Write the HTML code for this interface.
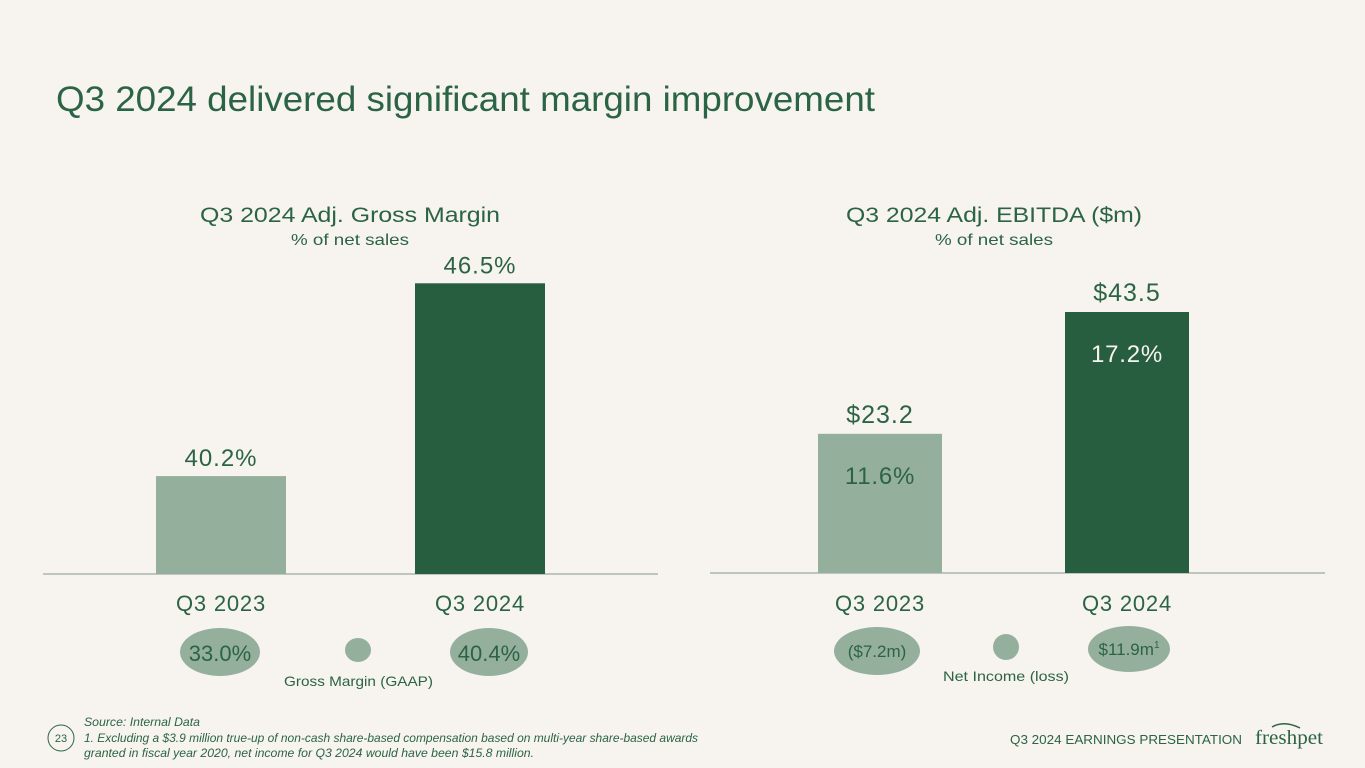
<!DOCTYPE html>
<html><head><meta charset="utf-8"><style>
html,body{margin:0;padding:0;background:#f7f3ef;}
svg{display:block;font-family:"Liberation Sans","DejaVu Sans",sans-serif;}
</style></head><body>
<svg id="s" width="1365" height="768" viewBox="0 0 1365 768">
<rect width="1365" height="768" fill="#f7f3ef"/>
<text x="56" y="111" font-size="35" fill="#2b6444" textLength="819" lengthAdjust="spacingAndGlyphs">Q3 2024 delivered significant margin improvement</text>
<g id="left">
<text x="200" y="222" font-size="21" fill="#2b6444" textLength="300" lengthAdjust="spacingAndGlyphs">Q3 2024 Adj. Gross Margin</text>
<text x="291" y="245" font-size="16" fill="#2b6444" textLength="118" lengthAdjust="spacingAndGlyphs">% of net sales</text>
<line x1="43" y1="574" x2="658" y2="574" stroke="#a9b8ae" stroke-width="1.5"/>
</g>
<g id="right">
<text x="846" y="222" font-size="21" fill="#2b6444" textLength="296" lengthAdjust="spacingAndGlyphs">Q3 2024 Adj. EBITDA ($m)</text>
<text x="935" y="245" font-size="16" fill="#2b6444" textLength="118" lengthAdjust="spacingAndGlyphs">% of net sales</text>
<line x1="710" y1="573" x2="1325" y2="573" stroke="#a9b8ae" stroke-width="1.5"/>
</g>
<g>
<ellipse cx="220" cy="652" rx="40" ry="24" fill="#95af9d"/>
<text x="220" y="661" font-size="22" fill="#2b6444" text-anchor="middle">33.0%</text>
<ellipse cx="358" cy="650" rx="13" ry="12" fill="#95af9d"/>
<text x="284" y="686" font-size="14" fill="#2b6444" textLength="149" lengthAdjust="spacingAndGlyphs">Gross Margin (GAAP)</text>
<ellipse cx="489" cy="652" rx="39" ry="24" fill="#95af9d"/>
<text x="489" y="661" font-size="22" fill="#2b6444" text-anchor="middle">40.4%</text>
</g>
<g>
<ellipse cx="877" cy="651" rx="43" ry="24" fill="#95af9d"/>
<text x="877" y="657" font-size="17" fill="#2b6444" text-anchor="middle">($7.2m)</text>
<ellipse cx="1006" cy="647" rx="13" ry="13" fill="#95af9d"/>
<text x="943" y="681" font-size="14" fill="#2b6444" textLength="126" lengthAdjust="spacingAndGlyphs">Net Income (loss)</text>
<ellipse cx="1129" cy="649" rx="41" ry="23" fill="#95af9d"/>
<text x="1129" y="655" font-size="17" fill="#2b6444" text-anchor="middle">$11.9m<tspan font-size="10" dy="-7">1</tspan></text>
</g>
<circle cx="61" cy="738" r="13" fill="none" stroke="#2b6444" stroke-width="1"/>
<text x="61" y="742" font-size="11" fill="#2b6444" text-anchor="middle">23</text>
<text x="84" y="726" font-size="12" font-style="italic" fill="#2b6444" textLength="116" lengthAdjust="spacingAndGlyphs">Source: Internal Data</text>
<text x="84" y="742" font-size="12" font-style="italic" fill="#2b6444" textLength="614" lengthAdjust="spacingAndGlyphs">1. Excluding a $3.9 million true-up of non-cash share-based compensation based on multi-year share-based awards</text>
<text x="84" y="757" font-size="12" font-style="italic" fill="#2b6444" textLength="450" lengthAdjust="spacingAndGlyphs">granted in fiscal year 2020, net income for Q3 2024 would have been $15.8 million.</text>
<text x="1010" y="744" font-size="13" fill="#2b6444" textLength="232" lengthAdjust="spacingAndGlyphs">Q3 2024 EARNINGS PRESENTATION</text>
<text x="1255" y="744" font-size="20" font-family="Liberation Serif,serif" fill="#2b6444" textLength="68" lengthAdjust="spacingAndGlyphs">freshpet</text>
<path d="M1272 727 Q1284 720 1300 728" stroke="#2b6444" fill="none" stroke-width="1.5"/>
</svg>
<script>
const gmCategories = ["Q3 2023", "Q3 2024"];
const gmValues = [40.2, 46.5];
const gmLabels = ["40.2%", "46.5%"];
const ebCategories = ["Q3 2023", "Q3 2024"];
const ebValues = [23.2, 43.5];
const ebLabels = ["$23.2", "$43.5"];
const ebPctLabels = ["11.6%", "17.2%"];
const colors = ["#95af9d", "#265e3f"];
const NS = "http://www.w3.org/2000/svg";
function mk(tag, attrs, parent, txt){const e=document.createElementNS(NS,tag);for(const k in attrs)e.setAttribute(k,attrs[k]);if(txt!=null)e.textContent=txt;parent.appendChild(e);return e;}
const gmBase=574, gmMin=37.0, gmK=30.6;
function gmY(v){return gmBase-(v-gmMin)*gmK;}
function gmX(i){return 156+i*259;}
const L=document.getElementById('left');
gmValues.forEach((v,i)=>{
  const r=mk('rect',{x:gmX(i),y:gmY(v),width:130,height:gmBase-gmY(v),fill:colors[i]},L);
  
  
  const t=mk('text',{x:gmX(i)+65,y:gmY(v)-10,'font-size':24,'letter-spacing':1,fill:'#2b6444','text-anchor':'middle'},L,gmLabels[i]);
  
  
  const c=mk('text',{x:gmX(i)+65,y:611,'font-size':22,'letter-spacing':0.8,fill:'#2b6444','text-anchor':'middle'},L,gmCategories[i]);
  
  
});
const ebBase=573, ebK=6.0;
function ebY(v){return ebBase-v*ebK;}
function ebX(i){return 818+i*247;}
const R=document.getElementById('right');
ebValues.forEach((v,i)=>{
  const r=mk('rect',{x:ebX(i),y:ebY(v),width:124,height:ebBase-ebY(v),fill:colors[i]},R);
  
  
  const t=mk('text',{x:ebX(i)+62,y:ebY(v)-11,'font-size':25,'letter-spacing':1,fill:'#2b6444','text-anchor':'middle'},R,ebLabels[i]);
  
  
  const p=mk('text',{x:ebX(i)+62,y:ebY(v)+50,'font-size':24,'letter-spacing':0.8,fill:i?'#f7f3ef':'#2b6444','text-anchor':'middle'},R,ebPctLabels[i]);
  
  
  const c=mk('text',{x:ebX(i)+62,y:611,'font-size':22,'letter-spacing':0.8,fill:'#2b6444','text-anchor':'middle'},R,ebCategories[i]);
  
  
});
</script>
</body></html>
